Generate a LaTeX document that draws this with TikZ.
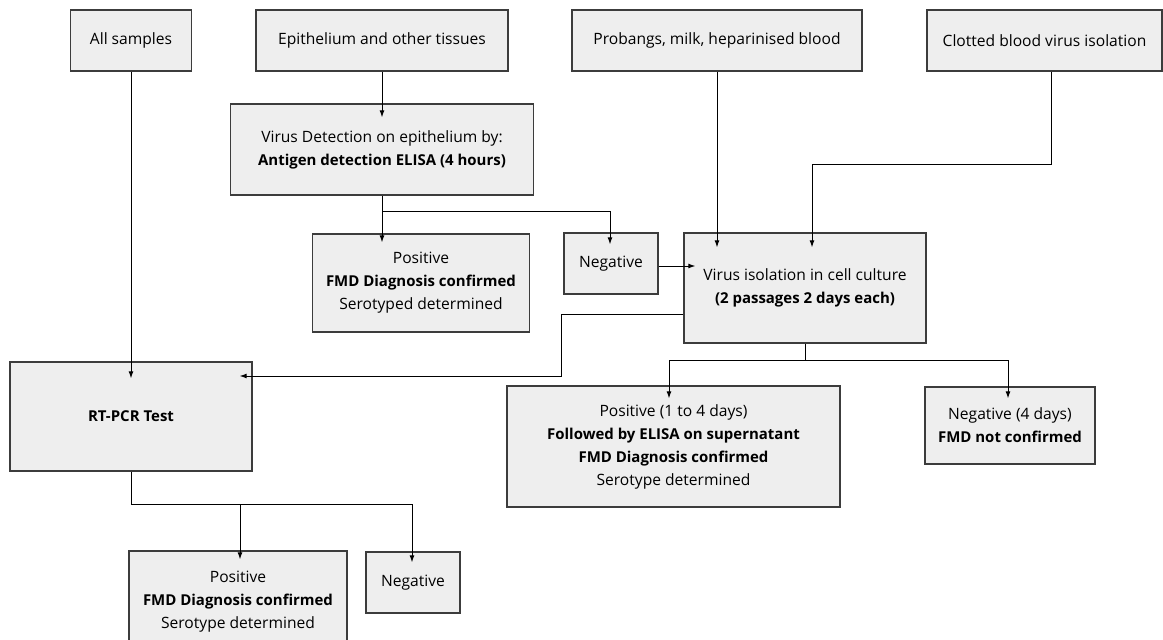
\documentclass[tikz,border=0pt]{standalone}
\usepackage{fontspec}
\setmainfont{Open Sans}[BoldFeatures={Scale=0.96}]
\usetikzlibrary{arrows.meta, calc}
\definecolor{cfill}{HTML}{EEEEEE}
\definecolor{cedge}{HTML}{3C3C3C}
\tikzset{
  every picture/.style={line width=1pt},
  box/.style={draw=cedge, fill=cfill, line width=1.3pt, align=center, inner sep=0pt,
              font=\fontsize{15.6}{23}\selectfont},
  sz/.style 2 args={minimum width=#1pt, minimum height=#2pt},
  arrow/.style={-{Latex[length=7pt, width=5pt]}, draw=black},
}

\begin{document}
\begin{tikzpicture}[x=1pt, y=-1pt]
  \useasboundingbox (0,0) rectangle (1163,640);
  \node[box, sz={121}{61}] (allS) at (131,40.5) {All samples};
  \node[box, sz={252}{61}] (epi) at (382,40.5) {Epithelium and other tissues};
  \node[box, sz={290}{61}] (prob) at (717,40.5) {Probangs, milk, heparinised blood};
  \node[box, sz={235}{61}] (clot) at (1044.5,40.5) {Clotted blood virus isolation};
  \node[box, sz={303}{91}] (vdet) at (382,149.5) {Virus Detection on epithelium by:\\\textbf{Antigen detection ELISA (4 hours)}};
  \node[box, sz={217}{98}] (posE) at (421,283) {Positive\\\textbf{FMD Diagnosis confirmed}\\Serotyped determined};
  \node[box, sz={94}{61}] (negE) at (611,263.5) {Negative};
  \node[box, sz={242}{110}] (viso) at (805,288) {Virus isolation in cell culture\\\textbf{(2 passages 2 days each)}};
  \node[box, sz={242}{109}] (pcr) at (131,416.5) {\textbf{RT-PCR Test}};
  \node[box, sz={333}{121}] (posV) at (673.5,446.5) {Positive (1 to 4 days)\\\textbf{Followed by ELISA on supernatant}\\\textbf{FMD Diagnosis confirmed}\\Serotype determined};
  \node[box, sz={170}{77}] (negV) at (1010,425.5) {Negative (4 days)\\\textbf{FMD not confirmed}};
  \node[box, sz={218}{102}] (posP) at (238,602) {Positive\\\textbf{FMD Diagnosis confirmed}\\Serotype determined};
  \node[box, sz={94}{61}] (negP) at (413,582.5) {Negative};

  \draw[arrow] (allS) -- ($(allS |- pcr.north)+(0,17)$);
  \draw[arrow] (epi) -- ($(epi |- vdet.north)+(0,14)$);
  \draw[arrow] (vdet) -- ($(vdet |- posE.north)+(0,9)$);
  \draw[arrow] ($(vdet.south)+(0,16)$) -| ($(negE.north)+(-1,12)$);
  \draw[arrow] ($(negE.east)+(0,2.5)$) -- ($(negE.east -| viso.west)+(12,2.5)$);
  \draw[arrow] (prob) -- ($(prob |- viso.north)+(0,15)$);
  \draw[arrow] ($(clot.south)+(6.5,0)$) -- ++(0,93) -| ($(viso.north)+(7,15)$);
  \draw[arrow] ($(viso.west)+(0,26)$) -- ++(-122,0) |- ($(pcr.east)+(-13,-40.5)$);
  \draw (viso.south) -- ++(0,17) coordinate (vsplit);
  \draw[arrow] (vsplit) -| ($(posV.north)+(-4.5,13)$);
  \draw[arrow] (vsplit) -| ($(negV.north)+(-2,12)$);
  \draw (pcr.south) -- ++(0,33) coordinate (psplit);
  \draw[arrow] (psplit) -| ($(posP.north)+(2,9)$);
  \draw[arrow] (psplit) -| ($(negP.north)+(-1,11)$);
\end{tikzpicture}
\end{document}
